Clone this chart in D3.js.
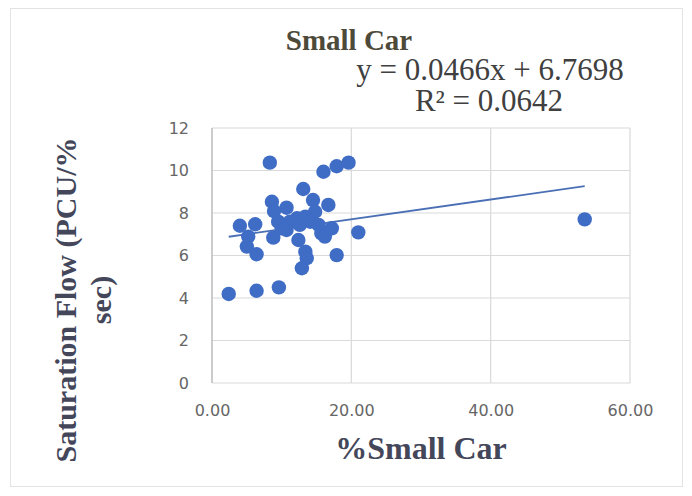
<!DOCTYPE html>
<html>
<head>
<meta charset="utf-8">
<script src="https://cdn.jsdelivr.net/npm/d3@7"></script>
<style>
  body { margin: 0; background: #fff; }
  svg { display: block; }
</style>
</head>
<body>
<svg id="chart" width="692" height="496"></svg>
<script>
// % small car in the traffic stream
var pctSmallCar = [2.4, 6.4, 9.6, 8.3, 16.0, 17.9, 19.6, 13.1, 8.6, 8.9, 10.7, 14.5, 16.7, 14.8,
    4.0, 6.2, 5.2, 5.0, 6.4, 8.8, 10.0, 11.2, 12.2, 13.4, 12.6, 10.7, 14.1, 15.3, 15.7, 17.2,
    16.2, 12.4, 13.4, 13.6, 12.9, 17.9, 21.0, 9.5, 53.5];
// saturation flow (PCU/%/sec)
var satFlow = [4.19, 4.34, 4.5, 10.37, 9.94, 10.2, 10.37, 9.13, 8.53, 8.09, 8.25, 8.61, 8.38, 8.06,
    7.40, 7.47, 6.89, 6.42, 6.06, 6.84, 7.28, 7.59, 7.75, 7.83, 7.44, 7.2, 7.59, 7.44, 7.04, 7.28,
    6.89, 6.73, 6.18, 5.87, 5.4, 6.02, 7.09, 7.59, 7.70];

var xTicks = [0, 20, 40, 60];
var yTicks = [0, 2, 4, 6, 8, 10, 12];

// linear trend as printed on the chart
var slope = 0.0466;
var intercept = 6.7698;
var rSquared = 0.0642;

var svg = d3.select('#chart');
var margin = { left: 212, right: 62, top: 128, bottom: 113 };
var width = 692 - margin.left - margin.right;
var height = 496 - margin.top - margin.bottom;

var x = d3.scaleLinear().domain([0, 60]).range([margin.left, margin.left + width]);
var y = d3.scaleLinear().domain([0, 12]).range([margin.top + height, margin.top]);

var serif = '"Liberation Serif", "Times New Roman", serif';
var tickFont = '"DejaVu Sans", sans-serif';

// outer frame
svg.append('rect')
    .attr('x', 10.5).attr('y', 8.5)
    .attr('width', 672).attr('height', 478)
    .attr('fill', '#fff')
    .attr('stroke', '#e3e3e3');

// gridlines
svg.append('g')
    .selectAll('line.h')
    .data(yTicks)
    .enter()
    .append('line')
    .attr('x1', x(0)).attr('x2', x(60))
    .attr('y1', function(d) { return y(d); })
    .attr('y2', function(d) { return y(d); })
    .attr('stroke', '#d9d9d9')
    .attr('stroke-width', 1.2);

svg.append('g')
    .selectAll('line.v')
    .data(xTicks)
    .enter()
    .append('line')
    .attr('x1', function(d) { return x(d); })
    .attr('x2', function(d) { return x(d); })
    .attr('y1', y(0)).attr('y2', y(12))
    .attr('stroke', function(d) { return d === 0 ? '#bfbfbf' : '#d9d9d9'; })
    .attr('stroke-width', function(d) { return d === 0 ? 1.6 : 1.2; });

// tick labels through d3 axes
var yAxis = svg.append('g')
    .attr('transform', 'translate(' + (x(0) - 20) + ',0)')
    .call(d3.axisLeft(y).tickValues(yTicks).tickSize(0).tickFormat(d3.format('d')));
yAxis.select('.domain').remove();
yAxis.selectAll('text')
    .attr('fill', '#666')
    .style('font-family', tickFont)
    .style('font-size', '16px');

var xAxis = svg.append('g')
    .attr('transform', 'translate(0,' + (y(0) + 19) + ')')
    .call(d3.axisBottom(x).tickValues(xTicks).tickSize(0).tickFormat(d3.format('.2f')));
xAxis.select('.domain').remove();
xAxis.selectAll('text')
    .attr('fill', '#666')
    .style('font-family', tickFont)
    .style('font-size', '16px');

// trendline
var xExtent = d3.extent(pctSmallCar);
svg.append('line')
    .attr('x1', x(xExtent[0])).attr('y1', y(slope * xExtent[0] + intercept))
    .attr('x2', x(xExtent[1])).attr('y2', y(slope * xExtent[1] + intercept))
    .attr('stroke', '#4a6fb5')
    .attr('stroke-width', 1.8);

// points
svg.append('g')
    .selectAll('circle')
    .data(pctSmallCar.map(function(d, i) { return { x: d, y: satFlow[i] }; }))
    .enter()
    .append('circle')
    .attr('cx', function(d) { return x(d.x); })
    .attr('cy', function(d) { return y(d.y); })
    .attr('r', 7.2)
    .attr('fill', '#3f6cc4');

// title and equation (they nearly touch in the original too)
svg.append('text')
    .attr('x', 349).attr('y', 50)
    .attr('text-anchor', 'middle')
    .attr('fill', '#4d4a3a')
    .style('font-family', serif)
    .style('font-weight', 'bold')
    .style('font-size', '29px')
    .text('Small Car');

svg.append('text')
    .attr('x', 490).attr('y', 80)
    .attr('text-anchor', 'middle')
    .attr('fill', '#404040')
    .style('font-family', serif)
    .style('font-size', '31px')
    .text('y = ' + slope + 'x  + ' + intercept);

svg.append('text')
    .attr('x', 489).attr('y', 111)
    .attr('text-anchor', 'middle')
    .attr('fill', '#404040')
    .style('font-family', serif)
    .style('font-size', '31px')
    .text('R² = ' + rSquared);

// axis titles
svg.append('text')
    .attr('x', x(30)).attr('y', 459)
    .attr('text-anchor', 'middle')
    .attr('fill', '#44475a')
    .style('font-family', serif)
    .style('font-weight', 'bold')
    .style('font-size', '32px')
    .text('%Small Car');

var yTitle = svg.append('text')
    .attr('transform', 'translate(0,300) rotate(-90)')
    .attr('text-anchor', 'middle')
    .attr('fill', '#44475a')
    .style('font-family', serif)
    .style('font-weight', 'bold')
    .style('font-size', '30px');
yTitle.append('tspan').attr('x', 0).attr('y', 76).text('Saturation Flow (PCU/%');
yTitle.append('tspan').attr('x', 0).attr('y', 111).text('sec)');
</script>
</body>
</html>
